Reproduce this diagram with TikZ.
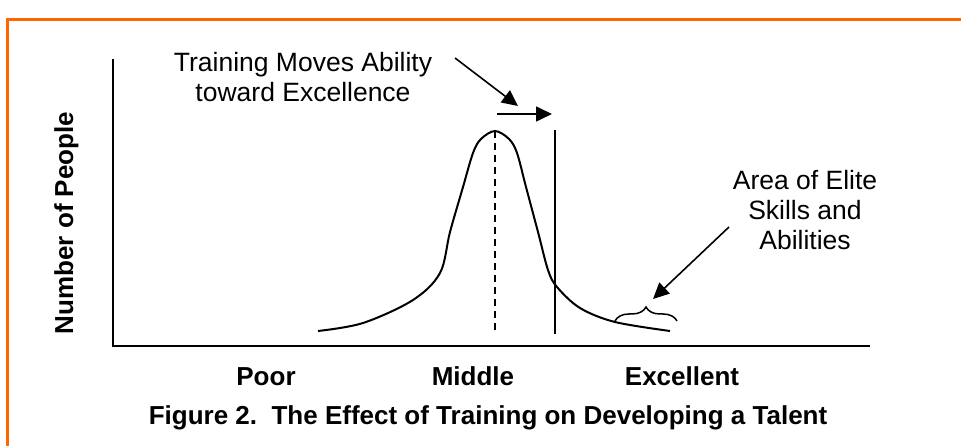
\documentclass[tikz,border=0pt]{standalone}
\usepackage{fontspec}
\setmainfont{Liberation Sans}
\usetikzlibrary{arrows.meta,decorations.pathreplacing}
\definecolor{frameorange}{HTML}{FF6600}
\begin{document}
\begin{tikzpicture}[x=1pt,y=-1pt,
  lbl/.style={font=\fontsize{26.5}{30}\selectfont, inner sep=0pt, align=center},
  blbl/.style={font=\fontsize{26}{30}\selectfont\bfseries, inner sep=0pt},
  axisline/.style={line width=2.2pt},
  curveline/.style={line width=2pt},
  arr/.style={line width=1.6pt, -{Triangle[length=16pt,width=15pt]}},
  frameline/.style={draw=frameorange, line width=3pt}]
\useasboundingbox (0,0) rectangle (961,446);
\fill[white] (0,0) rectangle (961,446);
% frame
\coordinate (f1) at (970,20);
\coordinate (f2) at (7,20);
\coordinate (f3) at (7,450);
\draw[frameline] (f1) -- (f2) -- (f3);
% axes
\coordinate (ytop) at (113,59);
\coordinate (origin) at (113,346);
\coordinate (xend) at (870,346);
\draw[axisline] (ytop) -- (origin) -- (xend);
% curve
\draw[curveline] plot[smooth, tension=0.55] coordinates {
  (318,331) (363,323) (413,300) (440,273) (450,232) (463,187) (473,153)
  (481,139) (495,131) (509,139) (517,153) (526,187) (538,232) (548,270) (557,287) (580,308)
  (615,322) (670,331)};
% dashed mean line and shifted line
\coordinate (d1) at (495,131);
\coordinate (d2) at (495,334);
\draw[line width=1.8pt, dash pattern=on 7pt off 5pt] (d1) -- (d2);
\coordinate (s1) at (555,130);
\coordinate (s2) at (555,334);
\draw[line width=1.8pt] (s1) -- (s2);
% texts
\node[lbl, anchor=base] (train) at (303,102) {Training Moves Ability\\toward Excellence};
\node[lbl, anchor=base] (elite) at (805,250) {Area of Elite\\Skills and\\Abilities};
\node[blbl, anchor=base, rotate=90] (ylab) at (73,223) {Number of People};
\node[blbl, anchor=base] (poor) at (266,385) {Poor};
\node[blbl, anchor=base] (middle) at (473,385) {Middle};
\node[blbl, anchor=base] (excel) at (682,385) {Excellent};
\node[blbl, anchor=base] (caption) at (488,424) {Figure 2.\ \ The Effect of Training on Developing a Talent};
% arrows
\coordinate (a1s) at (455,58);
\coordinate (a1e) at (518,106);
\draw[arr] (a1s) -- (a1e);
\coordinate (a2s) at (497,114);
\coordinate (a2e) at (552,114);
\draw[arr] (a2s) -- (a2e);
\coordinate (a3s) at (729,227);
\coordinate (a3e) at (653,299);
\draw[arr] (a3s) -- (a3e);
% brace
\coordinate (b1) at (615,321);
\coordinate (b2) at (677,321);
\draw[line width=1.5pt, decorate, decoration={brace, amplitude=14pt}] (b1) -- (b2);
\end{tikzpicture}
\end{document}
